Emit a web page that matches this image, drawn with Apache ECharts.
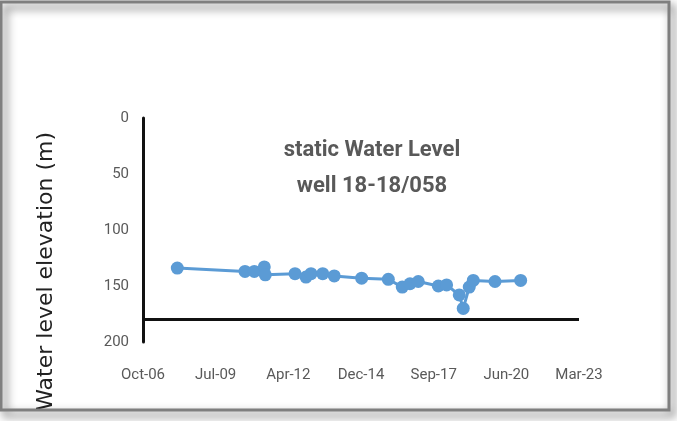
<!DOCTYPE html>
<html>
<head>
<meta charset="utf-8">
<script src="https://cdn.jsdelivr.net/npm/echarts@6/dist/echarts.min.js"></script>
<style>
  html, body { margin: 0; padding: 0; background: #fff; }
  #chart { width: 677px; height: 421px; }
</style>
</head>
<body>
<div id="chart"></div>
<script>
// measurement dates and static water levels (m)
const dates = [
  '2008-01-25', '2010-08-14', '2010-12-20', '2011-05-06', '2011-05-20',
  '2012-07-02', '2012-11-30', '2013-02-07', '2013-07-18', '2013-12-24',
  '2015-01-05', '2016-01-07', '2016-07-17', '2016-10-31', '2017-02-22',
  '2017-11-25', '2018-03-19', '2018-09-09', '2018-11-03', '2019-01-25',
  '2019-03-21', '2020-01-14', '2021-01-01'
]
const levels = [
  134, 137, 137, 133, 140,
  139, 142, 139, 139, 141,
  143, 144, 151, 148, 146,
  150, 149, 158, 170, 151,
  145, 146, 145
]
const titleLines = ['static Water Level', 'well 18-18/058']
const yTicks = [0, 50, 100, 150, 200]
const months = ['Jan', 'Feb', 'Mar', 'Apr', 'May', 'Jun', 'Jul', 'Aug', 'Sep', 'Oct', 'Nov', 'Dec']

// excel style day serial numbers
const DAY = 86400000
const EPOCH = Date.UTC(1899, 11, 30)
const toSerial = s => {
  const p = s.split('-').map(Number)
  return Math.round((Date.UTC(p[0], p[1] - 1, p[2]) - EPOCH) / DAY)
}
const fromSerial = n => {
  const d = new Date(EPOCH + n * DAY)
  return months[d.getUTCMonth()] + '-' + String(d.getUTCFullYear() % 100).padStart(2, '0')
}

const chart = echarts.init(document.getElementById('chart'))
const option = {
  backgroundColor: '#fff',
  animation: false,
  grid: { left: 143, top: 118, right: 98, bottom: 79 },
  title: {
    text: titleLines.join('\n'),
    left: 367,
    top: 127,
    textAlign: 'center',
    textStyle: {
      fontFamily: 'Roboto, sans-serif',
      fontSize: 22,
      fontWeight: 'bold',
      color: '#595959',
      lineHeight: 36,
    },
  },
  graphic: [
    {
      type: 'rect',
      shape: { x: 1, y: 2, width: 668, height: 408 },
      style: {
        fill: 'none',
        stroke: '#7f7f7f',
        lineWidth: 3,
        shadowBlur: 10,
        shadowOffsetX: 4,
        shadowOffsetY: 5,
        shadowColor: 'rgba(0,0,0,0.7)',
      },
      z: 10,
    },
    {
      type: 'text',
      left: 35,
      top: 132,
      style: {
        text: 'Water level elevation (m)',
        fontSize: 22,
        fontFamily: 'DejaVu Sans',
        fill: '#222',
      },
      rotation: Math.PI / 2,
    },
  ],
  xAxis: {
    type: 'value',
    min: 39000,
    max: 45000,
    interval: 1000,
    axisLine: { show: false },
    axisTick: { show: false },
    splitLine: { show: false },
    axisLabel: {
      margin: 26,
      color: '#595959',
      fontSize: 15,
      fontFamily: 'Roboto, sans-serif',
      formatter: v => fromSerial(v),
    },
  },
  yAxis: {
    type: 'value',
    inverse: true,
    min: yTicks[0],
    max: yTicks[yTicks.length - 1],
    interval: 50,
    axisLine: { show: true, onZero: false, lineStyle: { color: '#111', width: 3 } },
    axisTick: { show: false },
    splitLine: { show: false },
    axisLabel: {
      margin: 14,
      color: '#595959',
      fontSize: 15,
      fontFamily: 'Roboto, sans-serif',
    },
  },
  series: [
    {
      type: 'line',
      data: dates.map((d, i) => [toSerial(d), levels[i]]),
      symbol: 'circle',
      symbolSize: 13,
      itemStyle: { color: '#5b9bd5' },
      lineStyle: { color: '#5b9bd5', width: 3 },
      markLine: {
        silent: true,
        symbol: 'none',
        label: { show: false },
        lineStyle: { color: '#111', width: 3, type: 'solid' },
        data: [{ yAxis: 180 }],
      },
    },
  ],
}
chart.setOption(option)
</script>
</body>
</html>
